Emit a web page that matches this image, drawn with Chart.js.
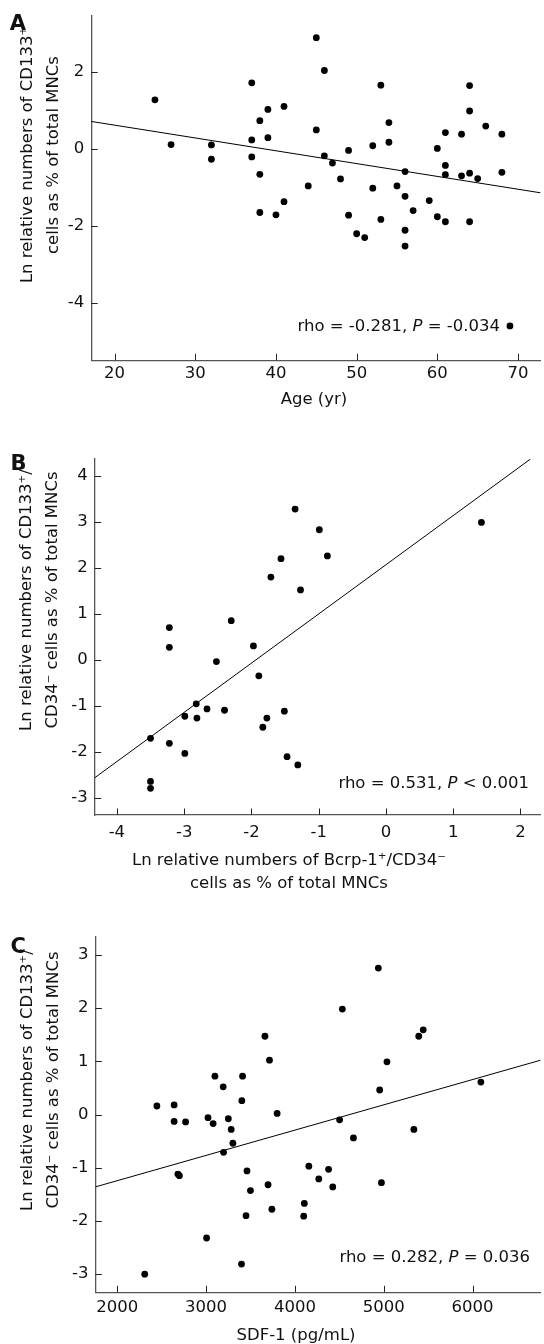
<!DOCTYPE html>
<html>
<head>
<meta charset="utf-8">
<script src="https://cdn.jsdelivr.net/npm/chart.js@4.4.0/dist/chart.umd.min.js"></script>
<style>
  html, body { margin: 0; padding: 0; background: #fff; }
  body { width: 544px; height: 1344px; position: relative; overflow: hidden; }
  canvas { position: absolute; left: 0; }
</style>
</head>
<body>
<canvas id="chartA" width="544" height="440" style="top:0px"></canvas>
<canvas id="chartB" width="544" height="480" style="top:440px"></canvas>
<canvas id="chartC" width="544" height="424" style="top:920px"></canvas>
<script>
// Panel A - idade x CD133+
const ageA = [25, 27, 32, 32, 37, 37, 37, 38, 38, 39, 39, 41, 45, 45, 46, 46, 47, 44, 48, 49,
  52, 52, 53, 54, 54, 55, 56, 60, 61, 61, 61, 63, 63, 64, 64, 64, 65, 66, 68, 68,
  38, 40, 41, 49, 50, 51, 53, 56, 56, 56, 57, 59, 60, 61, 64, 69];
const lnA = [1.27, 0.11, 0.10, -0.27, 1.71, 0.23, -0.21, 0.73, -0.66, 1.02, 0.29, 1.10, 2.88, 0.49, 2.03, -0.18, -0.37, -0.96, -0.78, -0.04,
  0.08, -1.02, 1.65, 0.68, 0.17, -0.96, -0.59, 0.01, 0.42, -0.43, -0.67, 0.38, -0.70, 1.64, 0.98, -0.63, -0.77, 0.59, 0.38, -0.61,
  -1.65, -1.71, -1.37, -1.72, -2.20, -2.30, -1.83, -1.23, -2.11, -2.52, -1.60, -1.34, -1.76, -1.89, -1.89, -4.59];
const fitAx = [17.1, 72.8];
const fitAy = [0.71, -1.14];
const ticksAx = [20, 30, 40, 50, 60, 70];
const ticksAy = [-4, -2, 0, 2];

// Panel B - Bcrp-1+/CD34- x CD133+/CD34-
const bcrpB = [-1.35, -0.99, -1.56, -0.87, -1.71, -1.27, 1.42, -2.30, -3.22, -3.22, -2.52, -1.97, -1.89, -2.82,
  -2.66, -2.40, -2.99, -2.81, -1.77, -1.83, -1.51, -3.50, -3.22, -2.99, -1.47, -1.31, -3.50, -3.50];
const lnB = [3.28, 2.83, 2.20, 2.26, 1.80, 1.52, 2.99, 0.85, 0.70, 0.27, -0.04, 0.30, -0.35, -0.96,
  -1.07, -1.10, -1.23, -1.27, -1.27, -1.47, -1.12, -1.71, -1.82, -2.04, -2.11, -2.29, -2.65, -2.80];
const fitBx = [-4.33, 2.15];
const fitBy = [-2.57, 4.37];
const ticksBx = [-4, -3, -2, -1, 0, 1, 2];
const ticksBy = [-3, -2, -1, 0, 1, 2, 3, 4];

// Panel C - SDF-1 x CD133+/CD34-
const sdfC = [4939, 4534, 3663, 5394, 5444, 3714, 5036, 3100, 3411, 3193, 3403, 2447, 2641, 2641, 2770,
  3022, 3080, 3251, 3283, 3302, 3197, 3800, 6093, 4954, 4503, 4659, 5339, 4974, 2683, 2700,
  3461, 3500, 3698, 4157, 4379, 4269, 4426, 4106, 4099, 3450, 3741, 3006, 3399, 2310];
const lnC = [2.75, 1.98, 1.47, 1.47, 1.59, 1.02, 0.99, 0.72, 0.72, 0.52, 0.26, 0.16, 0.18, -0.13, -0.14,
  -0.06, -0.17, -0.08, -0.28, -0.54, -0.71, 0.02, 0.61, 0.46, -0.10, -0.44, -0.28, -1.28, -1.12, -1.15,
  -1.06, -1.43, -1.32, -0.97, -1.03, -1.21, -1.36, -1.67, -1.91, -1.90, -1.78, -2.32, -2.81, -3.00];
const fitCx = [1755, 6765];
const fitCy = [-1.36, 1.02];
const ticksCx = [2000, 3000, 4000, 5000, 6000];
const ticksCy = [-3, -2, -1, 0, 1, 2, 3];

const FAMILY = '"DejaVu Sans", Verdana, sans-serif';
const FONT = '16.5px ' + FAMILY;
Chart.defaults.font.family = FAMILY;
Chart.defaults.font.size = 16.5;
Chart.defaults.color = '#111';

// marcas de escala para dentro da area do grafico
const innerTicks = {
  id: 'innerTicks',
  afterDraw(chart) {
    const { ctx, chartArea, scales: { x, y } } = chart;
    ctx.save();
    ctx.strokeStyle = '#222';
    ctx.lineWidth = 1;
    ctx.beginPath();
    x.ticks.forEach(t => {
      const px = Math.round(x.getPixelForValue(t.value)) + 0.5;
      ctx.moveTo(px, chartArea.bottom);
      ctx.lineTo(px, chartArea.bottom - 6.5);
    });
    y.ticks.forEach(t => {
      const py = Math.round(y.getPixelForValue(t.value)) + 0.5;
      ctx.moveTo(chartArea.left, py);
      ctx.lineTo(chartArea.left + 6.5, py);
    });
    ctx.stroke();
    ctx.restore();
  }
};

// letra do painel, titulos dos eixos e texto do rho
const panelText = {
  id: 'panelText',
  afterDraw(chart, args, o) {
    const ctx = chart.ctx;
    ctx.save();
    ctx.fillStyle = '#111';
    ctx.textBaseline = 'alphabetic';

    ctx.font = 'bold 21px ' + FAMILY;
    ctx.textAlign = 'left';
    ctx.fillText(o.letter, o.letterAt[0], o.letterAt[1]);

    ctx.font = FONT;
    ctx.textAlign = 'center';
    o.xTitle.forEach((t, i) => ctx.fillText(t, o.xTitleAt[0], o.xTitleAt[1] + i * o.xGap));

    o.yTitle.forEach((t, i) => {
      ctx.save();
      ctx.translate(o.yTitleAt[0] + i * o.yGap, o.yTitleAt[1]);
      ctx.rotate(-Math.PI / 2);
      ctx.fillText(t, 0, 0);
      ctx.restore();
    });

    // rho = ..., P = ...  (P em italico)
    const parts = [[o.stat[0], FONT], ['P', 'italic ' + FONT], [o.stat[1], FONT]];
    let w = 0;
    parts.forEach(p => { ctx.font = p[1]; w += ctx.measureText(p[0]).width; });
    let cx = o.statAt[0] - w;
    ctx.textAlign = 'left';
    ctx.textBaseline = 'middle';
    parts.forEach(p => {
      ctx.font = p[1];
      ctx.fillText(p[0], cx, o.statAt[1]);
      cx += ctx.measureText(p[0]).width;
    });
    ctx.restore();
  }
};

function toPoints(xs, ys) {
  return xs.map((x, i) => ({ x: x, y: ys[i] }));
}

function makeScale(min, max, values, pad, size, horizontal) {
  return {
    type: 'linear',
    min: min,
    max: max,
    grid: { display: false, drawTicks: false },
    border: { display: true, color: '#555', width: 1.3 },
    ticks: {
      padding: pad,
      color: '#111',
      font: { size: 16.5 },
      callback: (v) => String(v)
    },
    afterBuildTicks: (s) => { s.ticks = values.map(v => ({ value: v })); },
    afterFit: (s) => {
      if (horizontal) { s.height = size; s.paddingLeft = 0; s.paddingRight = 0; }
      else { s.width = size; s.paddingTop = 0; s.paddingBottom = 0; }
    }
  };
}

function makeChart(id, cfg) {
  return new Chart(document.getElementById(id), {
    type: 'scatter',
    data: {
      datasets: [{
        data: toPoints(cfg.xs, cfg.ys),
        pointRadius: 3.4,
        pointHoverRadius: 3.4,
        backgroundColor: '#000',
        borderWidth: 0
      }, {
        data: toPoints(cfg.fitX, cfg.fitY),
        showLine: true,
        borderColor: '#000',
        borderWidth: 1,
        pointRadius: 0
      }]
    },
    options: {
      responsive: false,
      animation: false,
      layout: { padding: cfg.padding },
      scales: {
        x: makeScale(cfg.xRange[0], cfg.xRange[1], cfg.xTicks, cfg.xPad, 30, true),
        y: makeScale(cfg.yRange[0], cfg.yRange[1], cfg.yTicks, 7, cfg.yWidth, false)
      },
      plugins: {
        legend: { display: false },
        tooltip: { enabled: false },
        panelText: cfg.text
      }
    },
    plugins: [innerTicks, panelText]
  });
}

makeChart('chartA', {
  xs: ageA, ys: lnA, fitX: fitAx, fitY: fitAy,
  xRange: [17.1, 72.8], yRange: [-5.48, 3.45],
  xTicks: ticksAx, yTicks: ticksAy, xPad: 4, yWidth: 91.2,
  padding: { left: 0, right: 0, top: 15.7, bottom: 49.7 },
  text: {
    letter: 'A', letterAt: [9.7, 30],
    xTitle: ['Age (yr)'], xTitleAt: [314, 404], xGap: 23,
    yTitle: ['Ln relative numbers of CD133\u207A', 'cells as % of total MNCs'],
    yTitleAt: [31.5, 155], yGap: 26.5,
    stat: ['rho = -0.281, ', ' = -0.034'], statAt: [500, 327]
  }
});

makeChart('chartB', {
  xs: bcrpB, ys: lnB, fitX: fitBx, fitY: fitBy,
  xRange: [-4.33, 2.3], yRange: [-3.38, 4.37],
  xTicks: ticksBx, yTicks: ticksBy, xPad: 8, yWidth: 94.7,
  padding: { left: 0, right: 0, top: 19, bottom: 75 },
  text: {
    letter: 'B', letterAt: [10.4, 30],
    xTitle: ['Ln relative numbers of Bcrp-1\u207A/CD34\u207B', 'cells as % of total MNCs'],
    xTitleAt: [289, 425], xGap: 23,
    yTitle: ['Ln relative numbers of CD133\u207A/', 'CD34\u207B cells as % of total MNCs'],
    yTitleAt: [31.2, 160], yGap: 26,
    stat: ['rho = 0.531, ', ' < 0.001'], statAt: [529, 344]
  }
});

makeChart('chartC', {
  xs: sdfC, ys: lnC, fitX: fitCx, fitY: fitCy,
  xRange: [1755, 6765], yRange: [-3.34, 3.34],
  xTicks: ticksCx, yTicks: ticksCy, xPad: 6, yWidth: 95.4,
  padding: { left: 0, right: 2, top: 16.7, bottom: 21.7 },
  text: {
    letter: 'C', letterAt: [10.4, 33],
    xTitle: ['SDF-1 (pg/mL)'], xTitleAt: [296, 420], xGap: 23,
    yTitle: ['Ln relative numbers of CD133\u207A/', 'CD34\u207B cells as % of total MNCs'],
    yTitleAt: [31.5, 160], yGap: 26,
    stat: ['rho = 0.282, ', ' = 0.036'], statAt: [530, 338]
  }
});
</script>
</body>
</html>
